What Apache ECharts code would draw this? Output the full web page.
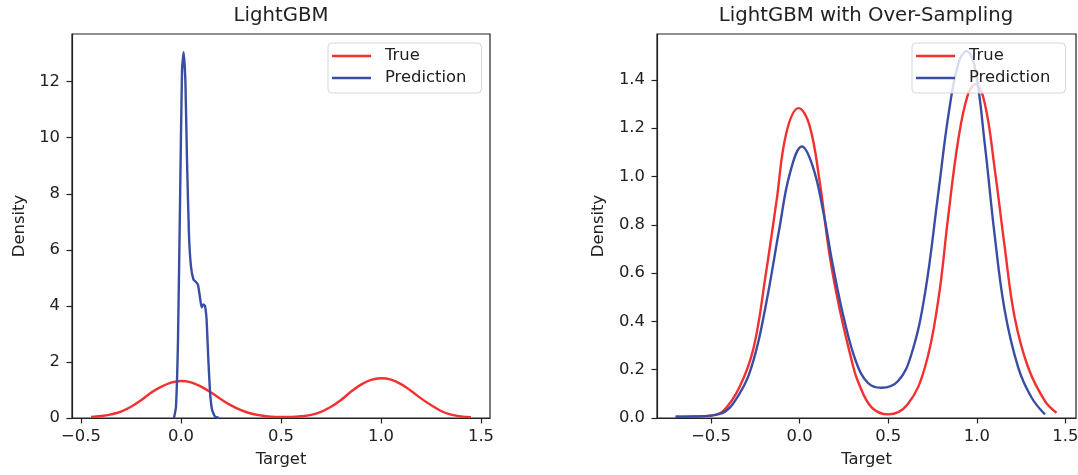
<!DOCTYPE html>
<html>
<head>
<meta charset="utf-8">
<script src="https://cdn.jsdelivr.net/npm/echarts@6/dist/echarts.min.js"></script>
<style>
  html, body { margin: 0; padding: 0; background: #fff; }
  #chart { width: 1078px; height: 475px; }
</style>
</head>
<body>
<div id="chart"></div>
<script>
// tick labels
const xTicks = [-0.5, 0, 0.5, 1, 1.5];
const leftYTicks = [0, 2, 4, 6, 8, 10, 12];
const rightYTicks = [0, 0.2, 0.4, 0.6, 0.8, 1.0, 1.2, 1.4];
const seriesNames = ["True", "Prediction"];

// LightGBM: [target, density]
const leftTrue = [
  [-0.45, 0.04], [-0.40, 0.07], [-0.35, 0.13], [-0.30, 0.23], [-0.25, 0.40],
  [-0.20, 0.63], [-0.15, 0.90], [-0.10, 1.11], [-0.05, 1.26], [0.00, 1.32],
  [0.05, 1.27], [0.10, 1.12], [0.15, 0.91], [0.20, 0.67], [0.25, 0.45],
  [0.30, 0.28], [0.35, 0.16], [0.40, 0.09], [0.45, 0.05], [0.50, 0.04],
  [0.55, 0.04], [0.60, 0.06], [0.65, 0.11], [0.70, 0.22], [0.75, 0.40],
  [0.80, 0.64], [0.85, 0.94], [0.90, 1.19], [0.95, 1.36], [1.00, 1.42],
  [1.05, 1.37], [1.10, 1.21], [1.15, 0.97], [1.20, 0.70], [1.25, 0.46],
  [1.30, 0.25], [1.35, 0.12], [1.40, 0.06], [1.45, 0.03]
];
const leftPred = [
  [-0.035, 0.0], [-0.025, 0.4], [-0.015, 2.8], [-0.005, 7.6], [0.005, 12.4],
  [0.013, 13.05], [0.022, 12.0], [0.030, 9.2], [0.040, 6.5], [0.050, 5.4],
  [0.062, 4.95], [0.075, 4.85], [0.085, 4.75], [0.095, 4.3], [0.103, 3.95],
  [0.112, 4.05], [0.120, 4.0], [0.128, 3.5], [0.136, 2.2], [0.145, 0.95],
  [0.155, 0.3], [0.170, 0.05], [0.190, 0.0]
];

// LightGBM with Over-Sampling
const rightTrue = [
  [-0.70, 0.005], [-0.60, 0.006], [-0.50, 0.01], [-0.43, 0.03], [-0.34, 0.127],
  [-0.26, 0.29], [-0.19, 0.60], [-0.13, 0.90], [-0.075, 1.18], [-0.005, 1.283],
  [0.055, 1.214], [0.113, 0.98], [0.17, 0.67], [0.226, 0.45], [0.30, 0.22],
  [0.33, 0.15], [0.405, 0.045], [0.50, 0.015], [0.61, 0.057], [0.707, 0.209],
  [0.782, 0.485], [0.838, 0.83], [0.895, 1.15], [0.951, 1.342], [0.995, 1.383],
  [1.046, 1.30], [1.10, 1.038], [1.158, 0.706], [1.214, 0.416], [1.29, 0.209],
  [1.385, 0.07], [1.45, 0.022]
];
const rightPred = [
  [-0.70, 0.005], [-0.60, 0.006], [-0.45, 0.017], [-0.34, 0.10], [-0.26, 0.24],
  [-0.19, 0.47], [-0.113, 0.79], [-0.056, 1.01], [0.013, 1.124], [0.075, 1.04],
  [0.132, 0.86], [0.188, 0.63], [0.254, 0.40], [0.32, 0.23], [0.386, 0.145],
  [0.462, 0.125], [0.556, 0.153], [0.631, 0.264], [0.707, 0.513], [0.782, 0.927],
  [0.838, 1.245], [0.895, 1.466], [0.942, 1.519], [0.989, 1.453], [1.045, 1.135],
  [1.10, 0.762], [1.158, 0.444], [1.234, 0.209], [1.309, 0.085], [1.385, 0.015]
];

const RED = "#f23030";
const BLUE = "#3a4da5";
const INK = "#222";
const FONT = "DejaVu Sans";
const FS = 16.4;

const fmtX = (v) => (v < 0 ? "\u2212" + (-v).toFixed(1) : v.toFixed(1));

const xAxisBase = (gridIndex, min, max) => ({
  type: "value",
  gridIndex,
  min,
  max,
  name: "Target",
  nameLocation: "middle",
  nameGap: 34,
  nameTextStyle: { fontFamily: FONT, fontSize: FS, color: INK },
  axisLine: { show: true, onZero: false, lineStyle: { color: INK, width: 1.2 } },
  axisTick: { show: true, length: 5.5, customValues: xTicks, lineStyle: { color: INK, width: 1.2 } },
  axisLabel: { customValues: xTicks, formatter: fmtX, margin: 11, fontFamily: FONT, fontSize: FS, color: INK },
  splitLine: { show: false },
});

const yAxisBase = (gridIndex, max, ticks, fmt, gap) => ({
  type: "value",
  gridIndex,
  min: 0,
  max,
  name: "Density",
  nameLocation: "middle",
  nameRotate: 90,
  nameGap: gap,
  nameTextStyle: { fontFamily: FONT, fontSize: FS, color: INK },
  axisLine: { show: true, onZero: false, lineStyle: { color: INK, width: 1.2 } },
  axisTick: { show: true, length: 5.5, customValues: ticks, lineStyle: { color: INK, width: 1.2 } },
  axisLabel: { customValues: ticks, formatter: fmt, margin: 12, fontFamily: FONT, fontSize: FS, color: INK },
  splitLine: { show: false },
});

const legendBase = (left) => ({
  orient: "vertical",
  left,
  top: 43,
  data: seriesNames,
  icon: "rect",
  itemWidth: 39,
  itemHeight: 2.6,
  itemGap: 6,
  padding: [5, 15, 7, 4],
  backgroundColor: "rgba(255,255,255,0.8)",
  borderColor: "#d6d6d6",
  borderWidth: 1,
  borderRadius: 4,
  selectedMode: false,
  formatter: (name) => "{t|" + name + "}",
  textStyle: {
    rich: { t: { padding: [0, 0, 0, 9], fontFamily: FONT, fontSize: FS, color: INK, lineHeight: 18 } },
  },
});

const line = (name, data, color, idx, smooth) => ({
  name,
  type: "line",
  data,
  xAxisIndex: idx,
  yAxisIndex: idx,
  showSymbol: false,
  smooth,
  color,
  lineStyle: { color, width: 2.4 },
  animation: false,
});

const chart = echarts.init(document.getElementById("chart"));
chart.setOption({
  animation: false,
  title: [
    { text: "LightGBM", left: 281, top: 6, textAlign: "center", padding: 0,
      textStyle: { fontFamily: FONT, fontSize: 19.7, fontWeight: "normal", color: INK } },
    { text: "LightGBM with Over-Sampling", left: 866, top: 6, textAlign: "center", padding: 0,
      textStyle: { fontFamily: FONT, fontSize: 19.7, fontWeight: "normal", color: INK } },
  ],
  grid: [
    { left: 72, top: 34, width: 418, height: 384, show: true, borderColor: INK, borderWidth: 1.2, outerBoundsMode: "none" },
    { left: 657, top: 34, width: 419, height: 384, show: true, borderColor: INK, borderWidth: 1.2, outerBoundsMode: "none" },
  ],
  xAxis: [xAxisBase(0, -0.545, 1.545), xAxisBase(1, -0.805, 1.56)],
  yAxis: [
    yAxisBase(0, 13.7, leftYTicks, (v) => String(Math.round(v)), 44),
    yAxisBase(1, 1.59, rightYTicks, (v) => v.toFixed(1), 50),
  ],
  legend: [legendBase(328), legendBase(912)],
  series: [
    line("True", leftTrue, RED, 0, 0.4),
    line("Prediction", leftPred, BLUE, 0, 0.15),
    line("True", rightTrue, RED, 1, 0.4),
    line("Prediction", rightPred, BLUE, 1, 0.4),
  ],
});
</script>
</body>
</html>
